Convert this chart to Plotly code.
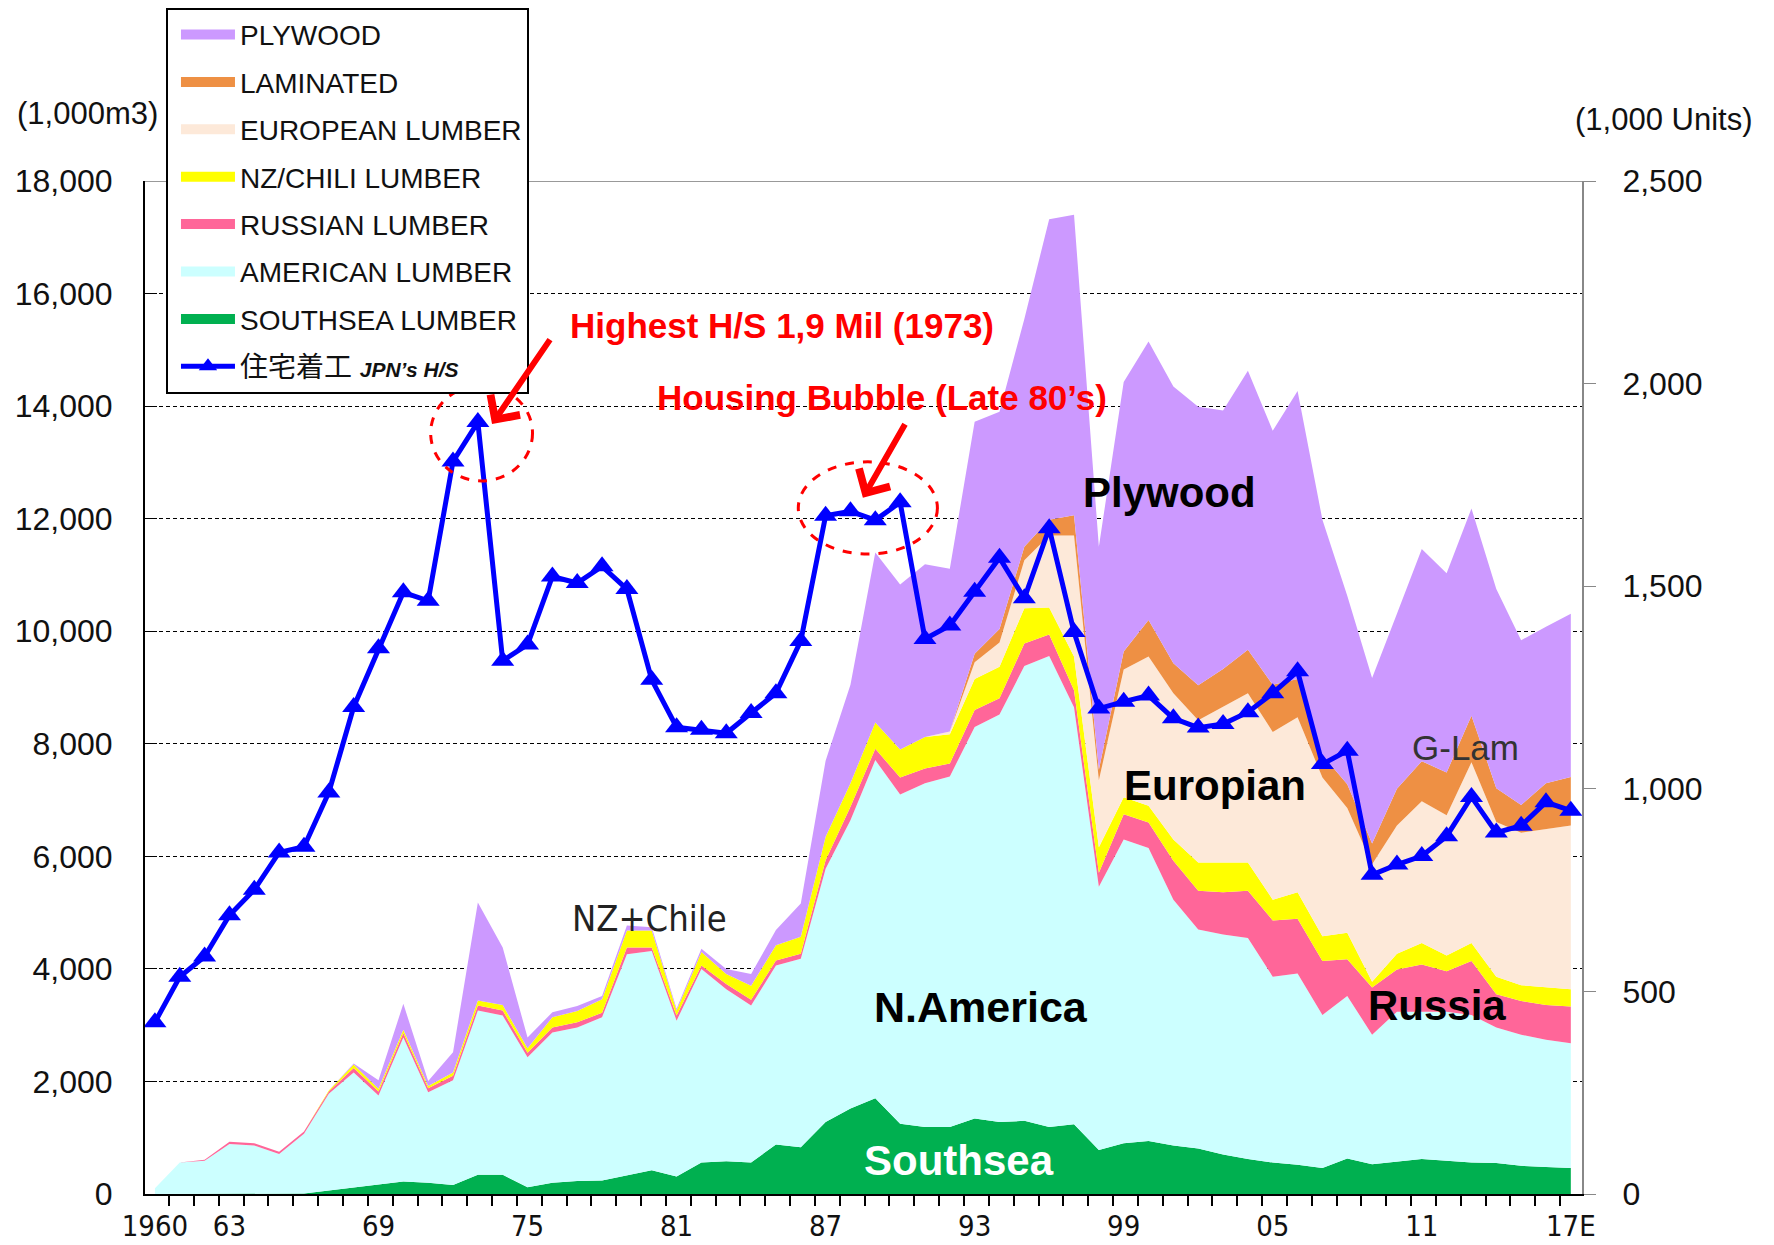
import plotly.graph_objects as go

# Japan wood imports by origin (1,000 m3) and housing starts (1,000 units)
years = list(range(1960, 2018))

southsea = [0, 0, 0, 0, 0, 0, 10, 60, 120, 170,
            220, 200, 160, 340, 340, 120, 200, 230, 240, 330,
            420, 310, 560, 580, 560, 880, 830, 1280, 1520, 1700,
            1250, 1190, 1190, 1340, 1280, 1300, 1190, 1240, 780, 900,
            940, 860, 810, 700, 620, 560, 520, 460, 630, 530,
            580, 620, 590, 560, 550, 500, 480, 460]
american = [100, 560, 590, 890, 860, 710, 1060, 1720, 2040, 1580,
            2560, 1610, 1860, 2920, 2830, 2310, 2670, 2730, 2900, 3930,
            3900, 2770, 3440, 3060, 2790, 3180, 3350, 4500, 5120, 6010,
            5850, 6110, 6230, 6960, 7240, 8080, 8370, 7410, 4680, 5400,
            5210, 4370, 3890, 3910, 3930, 3300, 3400, 2720, 2890, 2300,
            2660, 2620, 2650, 2620, 2410, 2330, 2260, 2220]
russian = [0, 0, 20, 40, 40, 40, 40, 40, 80, 70,
           80, 70, 80, 90, 90, 80, 90, 90, 80, 120,
           60, 90, 60, 90, 100, 90, 90, 150, 240, 200,
           300, 260, 230, 300, 290, 400, 380, 300, 250, 450,
           450, 690, 690, 750, 840, 1000, 970, 960, 650, 840,
           750, 840, 720, 960, 590, 600, 620, 650]
nz_chili = [0, 0, 0, 0, 0, 0, 0, 20, 60, 50,
            60, 40, 60, 90, 100, 80, 180, 200, 240, 300,
            300, 90, 240, 180, 250, 270, 300, 420, 420, 470,
            500, 560, 520, 550, 560, 630, 480, 600, 450, 300,
            300, 380, 500, 530, 500, 370, 470, 440, 470, 100,
            280, 380, 280, 320, 310, 280, 310, 310]
european = [0] * 32 + [50, 300, 430, 850, 1280, 2150, 1190, 2270,
            2650, 2600, 2530, 2770, 3010, 2980, 3110, 2820, 2220, 2090,
            2280, 2520, 2490, 3210, 2750, 2710, 2810, 2910]
laminated = [0] * 33 + [150, 240, 240, 280, 360, 190, 320,
             650, 530, 620, 670, 770, 840, 680, 400, 420, 370,
             650, 710, 760, 830, 600, 490, 820, 860]
plywood = [0, 0, 0, 0, 0, 0, 0, 0, 20, 150,
           460, 90, 360, 1740, 1020, 190, 90, 90, 60, 90,
           60, 30, 60, 90, 210, 270, 590, 1350, 1750, 3020,
           2930, 3070, 2890, 4120, 3860, 4050, 5340, 5340, 3960, 4790,
           4950, 4920, 4950, 4590, 4960, 4510, 5120, 4180, 3350, 2940,
           3110, 3770, 3540, 3680, 3540, 2930, 2780, 2900]
housing = [424, 536, 586, 688, 751, 843, 857, 991, 1202, 1347,
           1485, 1464, 1808, 1905, 1316, 1356, 1524, 1508, 1549, 1493,
           1269, 1152, 1146, 1137, 1187, 1236, 1365, 1674, 1685, 1663,
           1707, 1370, 1403, 1486, 1570, 1470, 1643, 1387, 1198, 1215,
           1230, 1174, 1151, 1160, 1189, 1236, 1290, 1061, 1094, 788,
           813, 834, 883, 980, 892, 909, 967, 946]

label_years = [1960, 1963, 1969, 1975, 1981, 1987, 1993, 1999, 2005, 2011, 2017]
label_text = ["1960", "63", "69", "75", "81", "87", "93", "99", "05", "11", "17E"]

# bottom -> top stacking order
layers = [
    ("SOUTHSEA LUMBER", southsea, "#00B050"),
    ("AMERICAN LUMBER", american, "#CCFFFF"),
    ("RUSSIAN LUMBER", russian, "#FF6699"),
    ("NZ/CHILI LUMBER", nz_chili, "#FFFF00"),
    ("EUROPEAN LUMBER", european, "#FDE9D9"),
    ("LAMINATED", laminated, "#EE9044"),
    ("PLYWOOD", plywood, "#CC99FF"),
]

SANS = "Liberation Sans, Arial, sans-serif"
NARROW = "Liberation Sans Narrow, DejaVu Sans Condensed, Liberation Sans, sans-serif"

fig = go.Figure()

for name, vals, color in layers:
    fig.add_trace(go.Scatter(
        x=years, y=vals, name=name, stackgroup="wood", mode="lines",
        line=dict(width=0, color=color), fillcolor=color,
        showlegend=False, hoverinfo="x+y+name"))

# legend entries, top to bottom like the original
for name, vals, color in reversed(layers):
    fig.add_trace(go.Scatter(
        x=[None], y=[None], name=name, mode="lines", legendgroup=name,
        line=dict(color=color, width=10)))

fig.add_trace(go.Scatter(
    x=years, y=housing, yaxis="y2", mode="lines+markers",
    name="住宅着工 <b><i><span style='font-size:21px'>JPN’s H/S</span></i></b>",
    legendgroup="hs",
    line=dict(color="#0000FF", width=5),
    marker=dict(symbol="triangle-up", size=20, color="#0000FF")))

red = "#FF0000"
annotations = [
    # arrows
    dict(x=1973.57, y=13680, ax=59, ay=-86, text="", showarrow=True,
         arrowhead=4, arrowsize=1.15, arrowwidth=6, arrowcolor=red),
    dict(x=1988.5, y=12370, ax=43, ay=-75, text="", showarrow=True,
         arrowhead=4, arrowsize=1.15, arrowwidth=6, arrowcolor=red),
    dict(x=1985.25, y=15440, text="<b>Highest H/S 1,9 Mil (1973)</b>", showarrow=False,
         font=dict(family=SANS, size=35, color=red)),
    dict(x=1989.28, y=14160, text="<b>Housing Bubble (Late 80’s)</b>", showarrow=False,
         font=dict(family=SANS, size=35, color=red)),
    dict(x=2000.84, y=12470, text="<b>Plywood</b>", showarrow=False,
         font=dict(family=SANS, size=42, color="black")),
    dict(x=2002.69, y=7250, text="<b>Europian</b>", showarrow=False,
         font=dict(family=SANS, size=42, color="black")),
    dict(x=1993.27, y=3320, text="<b>N.America</b>", showarrow=False,
         font=dict(family=SANS, size=43, color="black")),
    dict(x=2011.63, y=3350, text="<b>Russia</b>", showarrow=False,
         font=dict(family=SANS, size=42, color="black")),
    dict(x=1992.38, y=600, text="<b>Southsea</b>", showarrow=False,
         font=dict(family=SANS, size=42, color="white")),
    dict(x=1979.9, y=4900, text="NZ+Chile", showarrow=False,
         font=dict(family=NARROW, size=36, color="#222")),
    dict(x=2012.76, y=7940, text="G-Lam", showarrow=False,
         font=dict(family=SANS, size=35, color="#333")),
    dict(x=-0.0397, y=1.067, xref="paper", yref="paper", xanchor="center", yanchor="middle",
         text="(1,000m3)", showarrow=False, font=dict(family=SANS, size=31, color="#111")),
    dict(x=1.0564, y=1.061, xref="paper", yref="paper", xanchor="center", yanchor="middle",
         text="(1,000 Units)", showarrow=False, font=dict(family=SANS, size=31, color="#111")),
]

shapes = [
    dict(type="line", xref="paper", yref="y", x0=0, x1=1, y0=18000, y1=18000,
         line=dict(color="#999999", width=2)),
    dict(type="circle", xref="x", yref="y", x0=1971.1, x1=1975.2, y0=12670, y1=14370,
         line=dict(color=red, width=3, dash="dash")),
    dict(type="circle", xref="x", yref="y", x0=1985.9, x1=1991.5, y0=11370, y1=13010,
         line=dict(color=red, width=3, dash="dash")),
]

fig.update_layout(
    width=1774, height=1245,
    margin=dict(l=145, r=192, t=181, b=51, autoexpand=False),
    paper_bgcolor="white", plot_bgcolor="white",
    font=dict(family=SANS, color="#111"),
    showlegend=True,
    legend=dict(
        x=0.0146, y=1.171, xanchor="left", yanchor="top",
        bgcolor="white", bordercolor="black", borderwidth=2,
        font=dict(family=SANS + ", Noto Sans CJK JP", size=28, color="#111"),
        traceorder="grouped", tracegroupgap=8, itemwidth=54, indentation=8),
    annotations=annotations,
    shapes=shapes,
    xaxis=dict(
        range=[1959.6, 2017.45], tickmode="array", tickvals=label_years, ticktext=label_text,
        ticks="", showline=True, linecolor="black", linewidth=2, showgrid=False, zeroline=False,
        tickfont=dict(family=NARROW, size=29, color="#111"), ticklabelstandoff=5,
        minor=dict(tickmode="linear", tick0=1959.57, dtick=1, ticks="outside",
                   ticklen=10, tickwidth=1.5, tickcolor="black", showgrid=False)),
    yaxis=dict(
        range=[0, 18000], tickmode="linear", tick0=0, dtick=2000, tickformat=",",
        showline=True, linecolor="black", linewidth=2, ticks="inside", ticklen=12,
        tickcolor="black", showgrid=True, gridcolor="black", gridwidth=1.3,
        griddash="4px,3px", zeroline=False, ticklabelstandoff=24,
        tickfont=dict(family=SANS, size=32, color="#111")),
    yaxis2=dict(
        overlaying="y", side="right", range=[0, 2500], tickmode="linear", tick0=0,
        dtick=500, tickformat=",", showline=True, linecolor="#888888", linewidth=2,
        ticks="outside", ticklen=12, tickcolor="#888888", showgrid=False, zeroline=False,
        ticklabelstandoff=20, tickfont=dict(family=SANS, size=32, color="#111")),
)

fig.write_html("out.html", config={"displayModeBar": False},
               post_script="document.body.style.margin='0px';")
